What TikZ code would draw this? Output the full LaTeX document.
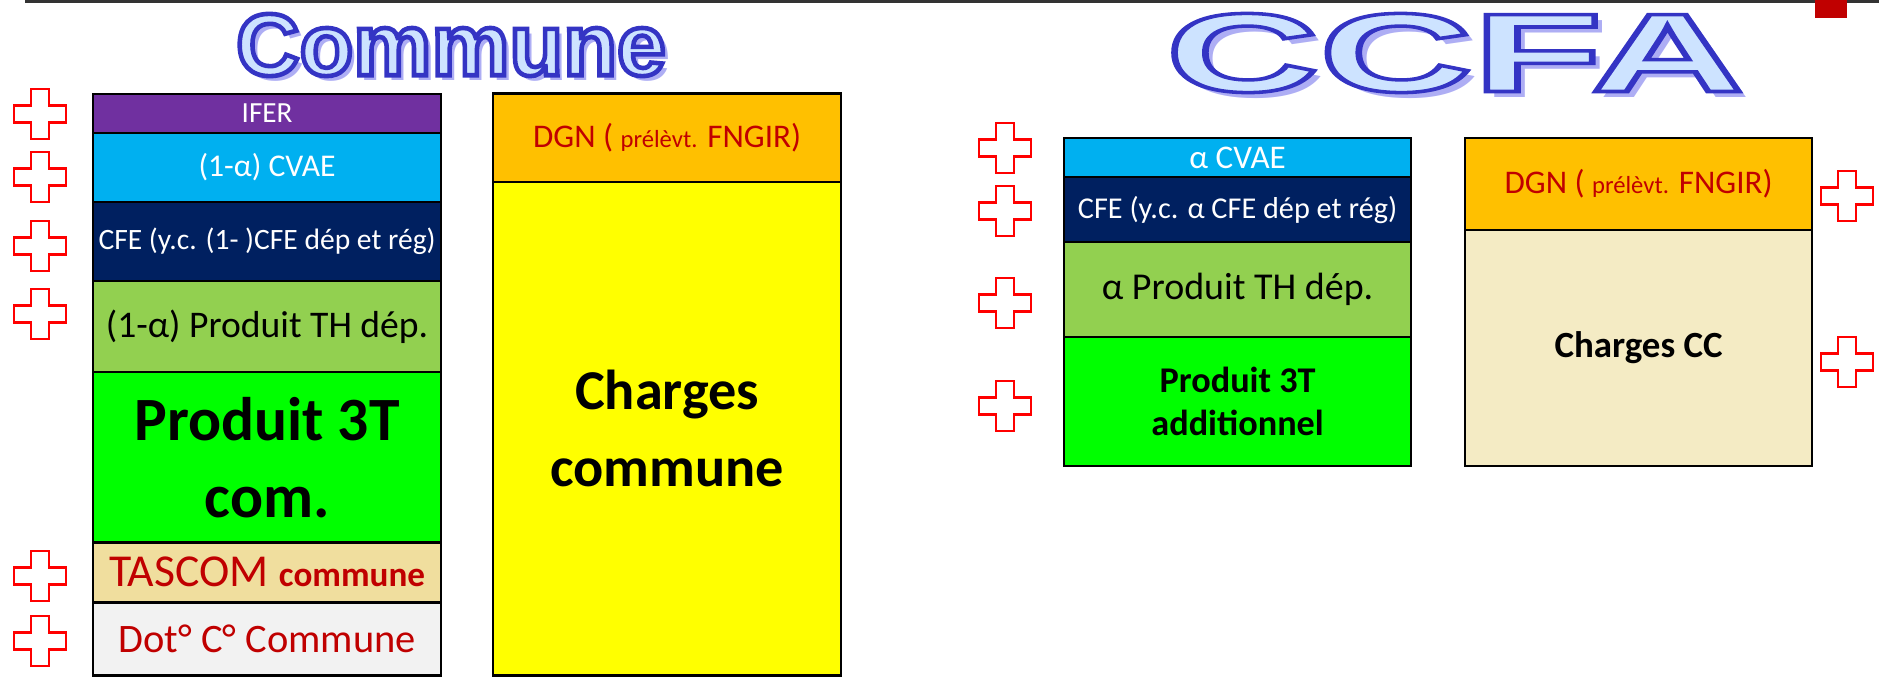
\documentclass[tikz,border=0pt]{standalone}
\usepackage{fontspec}
\setmainfont{Carlito}
\newfontfamily\titrefont{Liberation Sans}
\usepackage{tikz}
\usetikzlibrary{positioning}
\definecolor{violet_ifer}{HTML}{7030A0}
\definecolor{bleu_cvae}{HTML}{00B0F0}
\definecolor{marine_cfe}{HTML}{002060}
\definecolor{vert_th}{HTML}{92D050}
\definecolor{vert_3t}{HTML}{00FF00}
\definecolor{beige_tascom}{HTML}{F0DE9E}
\definecolor{gris_dot}{HTML}{F2F2F2}
\definecolor{orange_dgn}{HTML}{FFC000}
\definecolor{jaune_charges}{HTML}{FFFF00}
\definecolor{beige_cc}{HTML}{F4EBC4}
\definecolor{rouge_fonce}{HTML}{C00000}
\definecolor{titre_fond}{HTML}{CDE3FF}
\definecolor{titre_ombre}{HTML}{AEAEF4}
% texte plein + contour bleu fonce (#1 = epaisseur du contour)
\newcommand{\texterelief}[2]{{\color{titre_fond}%
  \special{pdf:literal direct 0.204 0.204 0.769 RG #1 w 2 Tr}#2%
  \special{pdf:literal direct 0 Tr}}}
\tikzset{
  strate/.style = {draw=black, line width=0.7pt, outer sep=0pt, inner sep=0pt,
    minimum width=3.48cm, align=center, text centered},% tranche d'un bloc
  strate_blanc/.style = {strate, text=white},% texte blanc sur fond sombre
  strate_rouge/.style = {strate, text=rouge_fonce},% texte rouge fonce
  titre/.style = {inner sep=0pt, font=\titrefont\bfseries},% titre en relief
  croix_trait/.style = {draw=red, line width=0.6pt, fill=white},
  croix/.pic = {\draw[croix_trait] (-8.7,-25) -- (8.7,-25) -- (8.7,-8.5) -- (26,-8.5)
    -- (26,8.5) -- (8.7,8.5) -- (8.7,25) -- (-8.7,25) -- (-8.7,8.5) -- (-26,8.5)
    -- (-26,-8.5) -- (-8.7,-8.5) -- cycle;}% signe plus
}

\begin{document}
\begin{tikzpicture}[x=0.01cm, y=-0.01cm]
  \useasboundingbox (0,0) rectangle (1879,678);
  \draw[line width=0.7pt, black!80] (25,1.5) -- (1879,1.5);
  \fill[rouge_fonce] (1815,0) rectangle (1847,18);

  % titres
  \node[titre, text=titre_ombre, font=\titrefont\bfseries\fontsize{25}{30}\selectfont]
    (titre_commune_ombre) at (456,50) {Commune};
  \node[titre, font=\titrefont\bfseries\fontsize{25}{30}\selectfont] (titre_commune)
    at (451,45) {\texterelief{1.3}{Commune}};
  \node[titre, text=titre_ombre, font=\titrefont\bfseries\fontsize{31.8}{36}\selectfont]
    (titre_ccfa_ombre) at (1463,59) {\scalebox{1.9}[1]{CCFA}};
  \node[titre, font=\titrefont\bfseries\fontsize{31.8}{36}\selectfont] (titre_ccfa)
    at (1455,53) {\scalebox{1.9}[1]{\texterelief{1.0}{CCFA}}};

  % commune : ressources
  \node[strate_blanc, fill=violet_ifer, minimum height=0.39cm, anchor=north west,
    font=\fontsize{8.3}{10}\selectfont] (ifer) at (93,94) {IFER};
  \node[strate_blanc, fill=bleu_cvae, minimum height=0.69cm, below=0pt of ifer,
    font=\fontsize{9}{11}\selectfont] (cvae) {(1-α) CVAE};
  \node[strate_blanc, fill=marine_cfe, minimum height=0.79cm, below=0pt of cvae,
    font=\fontsize{8.4}{10}\selectfont] (cfe) {CFE (y.c. (1- )CFE dép et rég)};
  \node[strate, fill=vert_th, minimum height=0.91cm, below=0pt of cfe,
    font=\fontsize{10.7}{13}\selectfont] (th) {(1-α) Produit TH dép.};
  \node[strate, fill=vert_3t, minimum height=1.70cm, below=0pt of th,
    font=\bfseries\fontsize{17.5}{21.9}\selectfont] (trois_t) {Produit 3T\\com.};
  \node[strate_rouge, fill=beige_tascom, minimum height=0.60cm, below=0pt of trois_t,
    font=\fontsize{13}{15}\selectfont] (tascom)
    {TASCOM {\bfseries\fontsize{10}{12}\selectfont commune}};
  \node[strate_rouge, fill=gris_dot, minimum height=0.73cm, below=0pt of tascom,
    font=\fontsize{11.5}{14}\selectfont] (dot) {Dot° C° Commune};

  % commune : charges
  \node[strate_rouge, fill=orange_dgn, minimum height=0.885cm, anchor=north west,
    font=\fontsize{9.4}{11}\selectfont] (dgn) at (493,93.5)
    {DGN ( {\fontsize{7}{8}\selectfont prélèvt.} FNGIR)};
  \node[strate, fill=jaune_charges, minimum height=4.93cm, below=0pt of dgn,
    font=\bfseries\fontsize{16}{21.9}\selectfont] (charges) {Charges\\commune};

  % ccfa : ressources
  \node[strate_blanc, fill=bleu_cvae, minimum height=0.39cm, minimum width=3.47cm,
    anchor=north west, font=\fontsize{9.4}{11}\selectfont] (a_cvae) at (1064,138) {α CVAE};
  \node[strate_blanc, fill=marine_cfe, minimum height=0.65cm, minimum width=3.47cm,
    below=0pt of a_cvae, font=\fontsize{8.6}{10}\selectfont] (a_cfe)
    {CFE (y.c. α CFE dép et rég)};
  \node[strate, fill=vert_th, minimum height=0.95cm, minimum width=3.47cm,
    below=0pt of a_cfe, font=\fontsize{10.8}{13}\selectfont] (a_th) {α Produit TH dép.};
  \node[strate, fill=vert_3t, minimum height=1.29cm, minimum width=3.47cm,
    below=0pt of a_th, font=\bfseries\fontsize{10.3}{12.2}\selectfont] (a_trois_t)
    {Produit 3T\\additionnel};

  % ccfa : charges
  \node[strate_rouge, fill=orange_dgn, minimum height=0.92cm, minimum width=3.47cm,
    anchor=north west, font=\fontsize{9.4}{11}\selectfont] (cc_dgn) at (1465,138)
    {DGN ( {\fontsize{7}{8}\selectfont prélèvt.} FNGIR)};
  \node[strate, fill=beige_cc, minimum height=2.36cm, minimum width=3.47cm,
    below=0pt of cc_dgn, font=\bfseries\fontsize{10.5}{13}\selectfont] (cc_charges)
    {Charges CC};

  % signes plus
  \foreach \y in {114,177,246,314,576,641}
    \pic at (40,\y) {croix};
  \foreach \y in {148,211,303,406}
    \pic at (1005,\y) {croix};
  \foreach \y in {196,362}
    \pic at (1847,\y) {croix};
\end{tikzpicture}
\end{document}
